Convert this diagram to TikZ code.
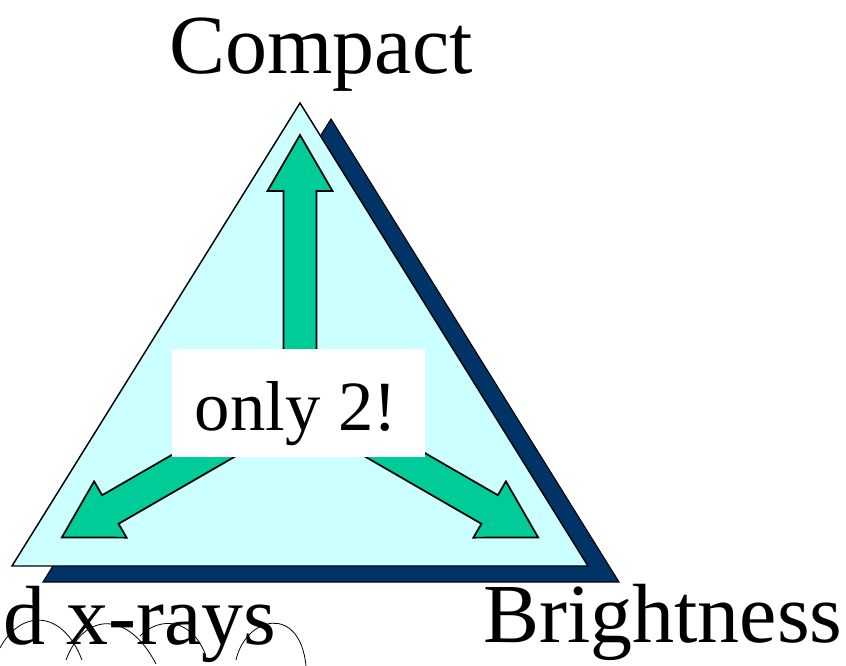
\documentclass[tikz,border=0pt]{standalone}
\usepackage{fontspec}
\setmainfont{Liberation Serif}
\usepackage{tikz}
\usepackage{xcolor}

\definecolor{paleCyan}{HTML}{CCFFFF}
\definecolor{navyBlue}{HTML}{003366}
\definecolor{seaGreen}{HTML}{00CC99}

\tikzset{
  bigtext/.style={font=\fontsize{63}{70}\selectfont, inner sep=0pt},
  arrowbody/.style={fill=seaGreen, draw=black, line width=1.3pt, line join=miter},
}

\begin{document}
\begin{tikzpicture}[x=0.75pt,y=0.75pt]
\useasboundingbox (0,0) rectangle (846,666);

% Corners of the triangle
\coordinate (left) at (12,100);
\coordinate (right) at (588,100);
\coordinate (top) at (300,563);
\coordinate (ctr) at (300,266);

% Shadow and triangle
\draw[fill=navyBlue, line width=0.8pt] ([shift={(31,-16)}]left) -- ([shift={(31,-16)}]right) -- ([shift={(31,-16)}]top) -- cycle;
\draw[fill=paleCyan, line width=1.1pt] (left) -- (right) -- (top) -- cycle;

% Three arrows out of the centre
\foreach \ang/\len in {90/265, 210/275, 330/275} {
  \draw[arrowbody, shift={(ctr)}, rotate=\ang]
    (0,-16.5) -- (\len-56,-16.5) -- (\len-56,-32.5) -- (\len,0)
    -- (\len-56,32.5) -- (\len-56,16.5) -- (0,16.5) -- cycle;
}

% Label in the middle
\node[fill=white, minimum width=253*0.75pt, minimum height=108*0.75pt, inner sep=0pt] (onlybox) at (298.5,263) {};
\node[font=\fontsize{53}{60}\selectfont, inner sep=0pt, anchor=base] (only) at (296,235) {only 2!};

% Corner labels
\node[bigtext, anchor=base] (compact) at (321,592) {Compact};
\node[bigtext, anchor=base west] (bright) at (483,23) {Brightness};
\node[bigtext, anchor=base west] (xrays) at (3,21) {d x-rays};

% Squiggles
\draw[line width=0.6pt] (0,18) .. controls (20,56) and (62,58) .. (82,6);
\draw[line width=0.6pt] (66,6) .. controls (84,54) and (128,56) .. (156,2);
\draw[line width=0.6pt] (140,30) .. controls (160,50) and (192,48) .. (206,10);
\draw[line width=0.6pt] (236,6) .. controls (246,50) and (300,62) .. (306,0);
\end{tikzpicture}
\end{document}
